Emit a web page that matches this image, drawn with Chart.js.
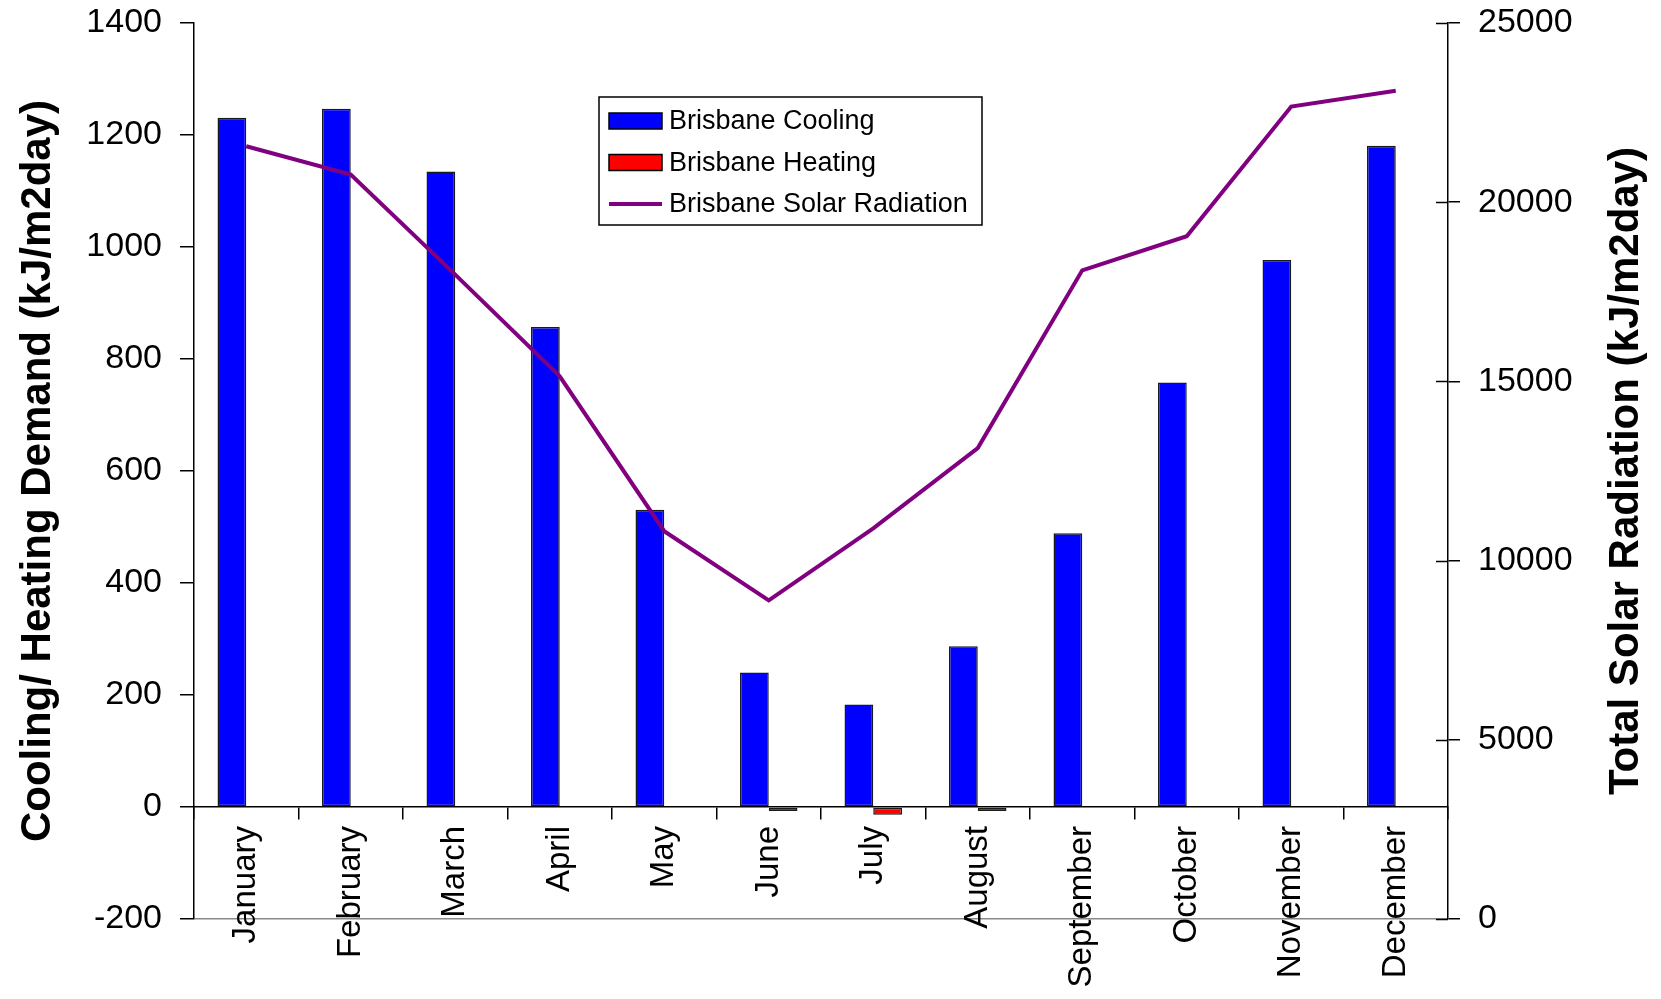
<!DOCTYPE html>
<html>
<head>
<meta charset="utf-8">
<title>Brisbane Cooling / Heating Demand and Solar Radiation</title>
<script src="https://cdn.jsdelivr.net/npm/chart.js@4.4.1/dist/chart.umd.min.js"></script>
<style>
  html, body { margin: 0; padding: 0; background: #fff; }
  #wrap { width: 1661px; height: 999px; position: relative; }
</style>
</head>
<body>
<div id="wrap"><canvas id="myChart"></canvas></div>
<script>
// data
const months = ['January', 'February', 'March', 'April', 'May', 'June',
                'July', 'August', 'September', 'October', 'November', 'December'];
const cooling = [1231, 1247, 1135, 857, 531, 240, 183, 287, 489, 758, 977, 1181];
const heating = [0, 0, 0, 0, 0, -7, -14, -7, 0, 0, 0, 0];
const solar = [21560, 20770, 17980, 15140, 10820, 8890, 10900, 13140, 18100, 19050, 22670, 23110];

const demandTicks = [-200, 0, 200, 400, 600, 800, 1000, 1200, 1400];
const solarTicks = [0, 5000, 10000, 15000, 20000, 25000];

const leftTitle = 'Cooling/ Heating Demand (kJ/m2day)';
const rightTitle = 'Total Solar Radiation (kJ/m2day)';

const FONT = '"Liberation Sans", Arial, sans-serif';
Chart.defaults.color = '#000';
Chart.defaults.font.family = FONT;

// legend box + right title (Excel style, reads bottom to top)
const extras = {
  id: 'extras',
  afterDraw(chart) {
    const ctx = chart.ctx;
    const area = chart.chartArea;
    ctx.save();

    // legend
    const x = 599, y = 97, w = 383, h = 128;
    ctx.fillStyle = '#fff';
    ctx.fillRect(x, y, w, h);
    ctx.strokeStyle = '#000';
    ctx.lineWidth = 1.5;
    ctx.strokeRect(x, y, w, h);
    ctx.font = '27px ' + FONT;
    ctx.textBaseline = 'middle';
    ctx.textAlign = 'left';
    chart.data.datasets.forEach((ds, i) => {
      const cy = y + 24 + i * 41.5;
      if (ds.type === 'line') {
        ctx.strokeStyle = ds.borderColor;
        ctx.lineWidth = 4;
        ctx.beginPath();
        ctx.moveTo(x + 10, cy);
        ctx.lineTo(x + 63, cy);
        ctx.stroke();
      } else {
        ctx.fillStyle = ds.backgroundColor;
        ctx.fillRect(x + 10, cy - 8, 53, 16);
        ctx.strokeStyle = '#000';
        ctx.lineWidth = 1.5;
        ctx.strokeRect(x + 10, cy - 8, 53, 16);
      }
      ctx.fillStyle = '#000';
      ctx.fillText(ds.label, x + 70, cy + 1);
    });

    // right axis: ticks cross the axis line
    const r = chart.scales.y1;
    ctx.strokeStyle = '#000';
    ctx.lineWidth = 1.5;
    solarTicks.forEach(v => {
      const py = Math.round(r.getPixelForValue(v)) + 0.5;
      ctx.beginPath();
      ctx.moveTo(r.left - 12, py);
      ctx.lineTo(r.left, py);
      ctx.stroke();
    });

    // right axis title
    ctx.translate(1626, (area.top + area.bottom) / 2);
    ctx.rotate(-Math.PI / 2);
    ctx.font = 'bold 42px ' + FONT;
    ctx.textAlign = 'center';
    ctx.fillStyle = '#000';
    ctx.fillText(rightTitle, 0, 0);
    ctx.restore();
  }
};

// keep the plot area where the picture has it
function fixWidth(w) {
  return s => {
    s.width = w;
    s.paddingTop = 0;
    s.paddingBottom = 0;
  };
}

const ctx = document.getElementById('myChart').getContext('2d');
const myChart = new Chart(ctx, {
  type: 'bar',
  data: {
    labels: months,
    datasets: [{
      label: 'Brisbane Cooling',
      data: cooling,
      backgroundColor: '#0000FF',
      borderColor: '#1a1a1a',
      borderWidth: 1.5,
      borderSkipped: false,
      yAxisID: 'y',
      order: 1
    }, {
      label: 'Brisbane Heating',
      data: heating,
      backgroundColor: '#FF0000',
      borderColor: '#1a1a1a',
      borderWidth: 1.5,
      borderSkipped: false,
      yAxisID: 'y',
      order: 1
    }, {
      type: 'line',
      label: 'Brisbane Solar Radiation',
      data: solar,
      borderColor: '#800080',
      backgroundColor: '#800080',
      borderWidth: 4,
      pointRadius: 0,
      tension: 0,
      yAxisID: 'y1',
      order: 0
    }]
  },
  options: {
    responsive: true,
    maintainAspectRatio: false,
    animation: false,
    layout: { padding: { top: 23, bottom: 80, left: 0, right: 0 } },
    datasets: {
      bar: { categoryPercentage: 0.55, barPercentage: 1.0 }
    },
    plugins: {
      legend: { display: false },
      tooltip: { enabled: false }
    },
    scales: {
      x: {
        position: { y: 0 },
        offset: true,
        grid: {
          offset: true,
          drawOnChartArea: false,
          drawTicks: true,
          tickLength: 12,
          tickColor: '#000',
          lineWidth: 1.5
        },
        border: { display: true, color: '#000', width: 1.5 },
        ticks: {
          autoSkip: false,
          maxRotation: 90,
          minRotation: 90,
          padding: 7,
          font: { size: 33 }
        }
      },
      y: {
        position: 'left',
        min: -200,
        max: 1400,
        afterBuildTicks: s => { s.ticks = demandTicks.map(v => ({ value: v })); },
        afterFit: fixWidth(194),
        grid: {
          drawOnChartArea: true,
          color: c => (c.tick && c.tick.value === -200) ? '#888' : 'rgba(0,0,0,0)',
          tickColor: '#000',
          tickLength: 14,
          lineWidth: 1.5
        },
        border: { display: true, color: '#000', width: 1.5 },
        ticks: { padding: 18, font: { size: 34 }, callback: v => String(v) },
        title: {
          display: true,
          text: leftTitle,
          font: { size: 42, weight: 'bold', lineHeight: 1 },
          padding: { top: 17, bottom: 0 }
        }
      },
      y1: {
        position: 'right',
        min: 0,
        max: 25000,
        afterBuildTicks: s => { s.ticks = solarTicks.map(v => ({ value: v })); },
        afterFit: fixWidth(213),
        grid: {
          drawOnChartArea: false,
          tickColor: '#000',
          tickLength: 12,
          lineWidth: 1.5
        },
        border: { display: true, color: '#000', width: 1.5 },
        ticks: { padding: 18, font: { size: 34 }, callback: v => String(v) }
      }
    }
  },
  plugins: [extras]
});
</script>
</body>
</html>
